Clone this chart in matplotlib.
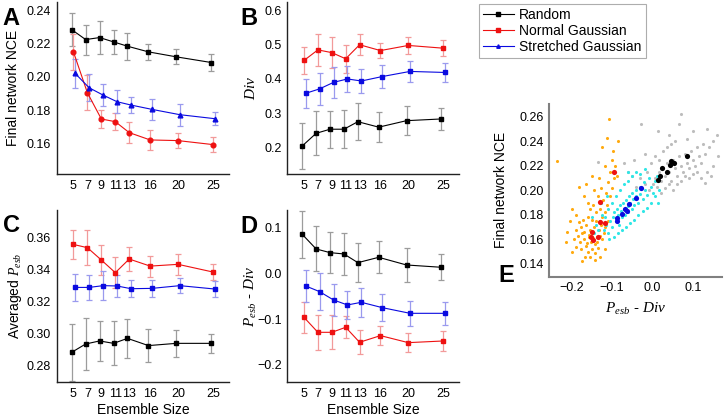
import numpy as np
import matplotlib
matplotlib.use('Agg')
import matplotlib.pyplot as plt
from matplotlib.lines import Line2D

plt.rcParams['font.family'] = ['Liberation Sans', 'DejaVu Sans']
plt.rcParams['mathtext.fontset'] = 'custom'
plt.rcParams['mathtext.it'] = 'Liberation Serif:italic'
plt.rcParams['mathtext.rm'] = 'Liberation Serif'

sizes = [5, 7, 9, 11, 13, 16, 20, 25]
series_names = ['Random', 'Normal Gaussian', 'Stretched Gaussian']

# panel A: final network NCE
nce_random = [0.2284, 0.2224, 0.2236, 0.2210, 0.2184, 0.2150, 0.2120, 0.2086]
nce_random_err = [0.0098, 0.009, 0.010, 0.007, 0.008, 0.005, 0.0045, 0.005]
nce_normal = [0.2150, 0.1904, 0.1746, 0.1730, 0.1664, 0.1620, 0.1616, 0.1592]
nce_normal_err = [0.011, 0.0105, 0.0055, 0.0053, 0.0065, 0.006, 0.0047, 0.0045]
nce_stretched = [0.2020, 0.1934, 0.1890, 0.1850, 0.1830, 0.1804, 0.1772, 0.1748]
nce_stretched_err = [0.009, 0.008, 0.0067, 0.007, 0.005, 0.0065, 0.0066, 0.004]

# panel B: Div
div_random = [0.204, 0.241, 0.253, 0.253, 0.275, 0.259, 0.278, 0.283]
div_random_err = [0.066, 0.064, 0.054, 0.055, 0.054, 0.044, 0.043, 0.033]
div_normal = [0.454, 0.485, 0.477, 0.459, 0.500, 0.483, 0.498, 0.490]
div_normal_err = [0.040, 0.046, 0.045, 0.041, 0.031, 0.023, 0.024, 0.024]
div_stretched = [0.358, 0.371, 0.390, 0.400, 0.394, 0.407, 0.422, 0.419]
div_stretched_err = [0.042, 0.046, 0.046, 0.037, 0.036, 0.034, 0.030, 0.029]

# panel C: averaged P_esb
pesb_random = [0.2885, 0.2937, 0.2956, 0.2941, 0.2972, 0.2927, 0.2941, 0.2941]
pesb_random_err = [0.0177, 0.0163, 0.0125, 0.0138, 0.0122, 0.0104, 0.0085, 0.0059]
pesb_normal = [0.3558, 0.3538, 0.3461, 0.3382, 0.3467, 0.3423, 0.3434, 0.3386]
pesb_normal_err = [0.0089, 0.011, 0.0093, 0.0097, 0.0074, 0.0066, 0.0064, 0.0047]
pesb_stretched = [0.3290, 0.3290, 0.3301, 0.3299, 0.3282, 0.3284, 0.3301, 0.3280]
pesb_stretched_err = [0.0086, 0.0076, 0.009, 0.0068, 0.0054, 0.0052, 0.0045, 0.0047]

# panel D: P_esb - Div
pd_random = [0.0847, 0.0528, 0.0448, 0.0419, 0.0230, 0.0346, 0.0179, 0.0129]
pd_random_err = [0.051, 0.049, 0.044, 0.046, 0.043, 0.035, 0.037, 0.028]
pd_normal = [-0.0961, -0.1288, -0.1288, -0.1179, -0.1505, -0.1360, -0.1513, -0.1477]
pd_normal_err = [0.034, 0.038, 0.037, 0.024, 0.026, 0.020, 0.021, 0.022]
pd_stretched = [-0.0278, -0.0402, -0.0583, -0.0692, -0.0634, -0.0750, -0.0874, -0.0874]
pd_stretched_err = [0.0345, 0.040, 0.0345, 0.031, 0.031, 0.029, 0.027, 0.025]

# panel E: individual networks (x = P_esb - Div, y = final NCE)
cloud_normal_x = [-0.170, -0.165, -0.158, -0.152, -0.147, -0.175, -0.180, -0.160, -0.150, -0.142,
                  -0.138, -0.133, -0.128, -0.145, -0.155, -0.165, -0.185, -0.190, -0.178, -0.168,
                  -0.155, -0.143, -0.135, -0.125, -0.120, -0.118, -0.140, -0.150, -0.160, -0.172,
                  -0.182, -0.195, -0.188, -0.176, -0.162, -0.148, -0.137, -0.130, -0.157, -0.170,
                  -0.125, -0.118, -0.130, -0.112, -0.122, -0.105, -0.115, -0.135, -0.100, -0.110,
                  -0.095, -0.105, -0.092, -0.100, -0.088, -0.140, -0.148, -0.155, -0.128, -0.117,
                  -0.237, -0.212, -0.205, -0.200, -0.181, -0.170, -0.113, -0.108, -0.125, -0.145,
                  -0.160, -0.143, -0.130, -0.175, -0.200, -0.190, -0.098, -0.085, -0.215, -0.118,
                  -0.110, -0.133, -0.150, -0.165]
cloud_normal_y = [0.160, 0.155, 0.162, 0.158, 0.165, 0.165, 0.158, 0.150, 0.152, 0.156,
                  0.162, 0.168, 0.172, 0.170, 0.168, 0.172, 0.163, 0.168, 0.170, 0.146,
                  0.146, 0.149, 0.153, 0.160, 0.165, 0.170, 0.175, 0.176, 0.178, 0.176,
                  0.174, 0.160, 0.154, 0.152, 0.157, 0.161, 0.158, 0.163, 0.164, 0.166,
                  0.178, 0.182, 0.185, 0.188, 0.192, 0.195, 0.198, 0.195, 0.202, 0.207,
                  0.210, 0.215, 0.220, 0.225, 0.212, 0.182, 0.188, 0.185, 0.202, 0.220,
                  0.224, 0.166, 0.175, 0.150, 0.203, 0.195, 0.243, 0.258, 0.235, 0.200,
                  0.190, 0.143, 0.146, 0.142, 0.185, 0.180, 0.232, 0.240, 0.158, 0.152,
                  0.175, 0.210, 0.212, 0.205]
cloud_stretched_x = [-0.120, -0.115, -0.110, -0.105, -0.100, -0.098, -0.095, -0.090, -0.088, -0.085,
                     -0.082, -0.080, -0.078, -0.075, -0.072, -0.070, -0.068, -0.065, -0.062, -0.060,
                     -0.058, -0.055, -0.052, -0.050, -0.048, -0.045, -0.042, -0.040, -0.035, -0.032,
                     -0.030, -0.025, -0.022, -0.020, -0.015, -0.010, -0.005, 0.000, 0.005, 0.010,
                     -0.130, -0.135, -0.125, -0.140, -0.150, -0.110, -0.100, -0.090, -0.080, -0.070,
                     -0.060, -0.050, -0.040, -0.085, -0.075, -0.065, -0.055, -0.045, -0.035, -0.025,
                     -0.015, -0.005, 0.005, 0.015, -0.095, -0.108, -0.118, -0.128, -0.060, -0.030,
                     -0.020, 0.012, -0.145, -0.112]
cloud_stretched_y = [0.168, 0.172, 0.165, 0.175, 0.170, 0.178, 0.182, 0.175, 0.185, 0.180,
                     0.172, 0.188, 0.183, 0.178, 0.190, 0.185, 0.180, 0.192, 0.187, 0.182,
                     0.195, 0.190, 0.185, 0.198, 0.193, 0.188, 0.200, 0.195, 0.190, 0.203,
                     0.197, 0.193, 0.207, 0.200, 0.196, 0.210, 0.203, 0.198, 0.208, 0.212,
                     0.175, 0.168, 0.180, 0.172, 0.178, 0.185, 0.190, 0.195, 0.200, 0.205,
                     0.208, 0.212, 0.215, 0.165, 0.168, 0.170, 0.173, 0.176, 0.180, 0.183,
                     0.186, 0.190, 0.195, 0.200, 0.162, 0.160, 0.178, 0.190, 0.215, 0.213,
                     0.217, 0.190, 0.165, 0.195]
cloud_random_x = [0.000, 0.005, 0.010, 0.015, 0.020, 0.025, 0.030, 0.035, 0.040, 0.045,
                  0.050, 0.055, 0.060, 0.065, 0.070, 0.075, 0.080, 0.085, 0.090, 0.095,
                  0.100, 0.105, 0.110, 0.115, 0.120, 0.125, 0.130, 0.140, 0.150, 0.135,
                  -0.010, -0.020, -0.030, -0.040, -0.050, -0.015, -0.005, 0.005, 0.015, 0.025,
                  0.035, 0.045, 0.055, 0.020, 0.030, 0.040, 0.050, 0.060, 0.070, 0.080,
                  0.090, 0.100, 0.110, 0.120, 0.130, 0.071, -0.029, 0.065, 0.135, 0.012,
                  0.159, -0.060, -0.070, -0.135, 0.160, 0.150, 0.040, 0.085, 0.100, -0.020,
                  -0.045, 0.145]
cloud_random_y = [0.205, 0.210, 0.203, 0.215, 0.208, 0.218, 0.212, 0.222, 0.215, 0.208,
                  0.225, 0.218, 0.212, 0.228, 0.220, 0.215, 0.230, 0.222, 0.218, 0.232,
                  0.225, 0.220, 0.235, 0.228, 0.222, 0.238, 0.230, 0.235, 0.240, 0.215,
                  0.200, 0.205, 0.210, 0.203, 0.212, 0.215, 0.222, 0.228, 0.225, 0.232,
                  0.235, 0.238, 0.240, 0.198, 0.202, 0.205, 0.200, 0.205, 0.208, 0.212,
                  0.210, 0.213, 0.215, 0.210, 0.206, 0.262, 0.254, 0.254, 0.250, 0.248,
                  0.245, 0.215, 0.222, 0.223, 0.228, 0.220, 0.245, 0.242, 0.248, 0.230,
                  0.225, 0.212]

colors = ['#000000', '#ee1111', '#0a0ae0']
err_colors = ['#9c9c9c', '#f29a9a', '#9a9aee']
cloud_colors = ['#bdbdbd', '#ffaa10', '#30e6e6']
offsets = [-0.25, 0.0, 0.25]

fig = plt.figure(figsize=(7.24, 4.19), dpi=100)

def style_axes(ax):
    for s in ['top', 'right']:
        ax.spines[s].set_visible(False)
    for s in ['left', 'bottom']:
        ax.spines[s].set_color('#222222')
        ax.spines[s].set_linewidth(1.0)
    ax.tick_params(length=0, labelsize=9, pad=4)
    ax.set_xticks(sizes)
    ax.set_xlim(2.6, 27.3)

def draw_panel(ax, ys, errs, markers):
    for i in range(3):
        x = np.array(sizes) + offsets[i]
        ax.errorbar(x, ys[i], yerr=errs[i], fmt='-', marker=markers[i], color=colors[i],
                    ms=3.4, lw=0.8, ecolor=err_colors[i], elinewidth=0.9,
                    capsize=2, capthick=0.9)

axA = fig.add_axes([0.0783, 0.5847, 0.238, 0.4105])
draw_panel(axA, [nce_random, nce_normal, nce_stretched],
           [nce_random_err, nce_normal_err, nce_stretched_err], ['s', 'o', '^'])
style_axes(axA)
axA.set_ylim(0.1415, 0.245)
axA.set_yticks([0.16, 0.18, 0.20, 0.22, 0.24])
axA.set_ylabel('Final network NCE', fontsize=10)
axA.yaxis.set_label_coords(-0.213, 0.5)

axB = fig.add_axes([0.3968, 0.5847, 0.2372, 0.4105])
draw_panel(axB, [div_random, div_normal, div_stretched],
           [div_random_err, div_normal_err, div_stretched_err], ['s', 's', 's'])
style_axes(axB)
axB.set_ylim(0.122, 0.625)
axB.set_yticks([0.2, 0.3, 0.4, 0.5, 0.6])
axB.set_ylabel('$Div$', fontsize=11)
axB.yaxis.set_label_coords(-0.17, 0.5)

axC = fig.add_axes([0.0783, 0.0876, 0.238, 0.4112])
draw_panel(axC, [pesb_random, pesb_normal, pesb_stretched],
           [pesb_random_err, pesb_normal_err, pesb_stretched_err], ['s', 's', 's'])
style_axes(axC)
axC.set_ylim(0.2698, 0.3773)
axC.set_yticks([0.28, 0.30, 0.32, 0.34, 0.36])
axC.set_ylabel('Averaged $P_{esb}$', fontsize=10)
axC.yaxis.set_label_coords(-0.19, 0.5)
axC.set_xlabel('Ensemble Size', fontsize=10)
axC.xaxis.set_label_coords(0.5, -0.12)

axD = fig.add_axes([0.3968, 0.0876, 0.2372, 0.4112])
draw_panel(axD, [pd_random, pd_normal, pd_stretched],
           [pd_random_err, pd_normal_err, pd_stretched_err], ['s', 's', 's'])
style_axes(axD)
axD.set_ylim(-0.2377, 0.1377)
axD.set_yticks([-0.2, -0.1, 0.0, 0.1])
axD.set_ylabel('$P_{esb}$ - $Div$', fontsize=11)
axD.yaxis.set_label_coords(-0.165, 0.5)
axD.set_xlabel('Ensemble Size', fontsize=10)
axD.xaxis.set_label_coords(0.5, -0.12)

axE = fig.add_axes([0.7587, 0.3396, 0.2385, 0.4122])
axE.scatter(cloud_normal_x, cloud_normal_y, s=5, color=cloud_colors[1], lw=0)
axE.scatter(cloud_random_x, cloud_random_y, s=5, color=cloud_colors[0], lw=0)
axE.scatter(cloud_stretched_x, cloud_stretched_y, s=5, color=cloud_colors[2], lw=0)
axE.scatter(pd_random, nce_random, s=14, color=colors[0], lw=0)
axE.scatter(pd_normal, nce_normal, s=14, color=colors[1], lw=0)
axE.scatter(pd_stretched, nce_stretched, s=14, color=colors[2], lw=0)
for s in ['top', 'right']:
    axE.spines[s].set_visible(False)
for s in ['left', 'bottom']:
    axE.spines[s].set_color('#808080')
    axE.spines[s].set_linewidth(1.5)
axE.tick_params(length=0, labelsize=9, pad=4)
axE.set_xlim(-0.255, 0.171)
axE.set_ylim(0.1296, 0.2704)
axE.set_xticks([-0.2, -0.1, 0.0, 0.1])
axE.set_yticks([0.14, 0.16, 0.18, 0.20, 0.22, 0.24, 0.26])
axE.set_ylabel('Final network NCE', fontsize=10)
axE.yaxis.set_label_coords(-0.24, 0.5)
axE.set_xlabel('$P_{esb}$ - $Div$', fontsize=11)
axE.xaxis.set_label_coords(0.5, -0.14)

# legend
handles = [Line2D([], [], color=colors[0], marker='s', ms=2.5, lw=0.8),
           Line2D([], [], color=colors[1], marker='s', ms=2.5, lw=0.8),
           Line2D([], [], color=colors[2], marker='^', ms=2.5, lw=0.8)]
leg = fig.legend(handles, series_names, loc='upper left', bbox_to_anchor=(479 / 724, 1 - 4 / 419),
                 fontsize=10, frameon=True, fancybox=False, handlelength=2.2,
                 labelspacing=0.15, borderpad=0.3, handletextpad=0.4, borderaxespad=0)
leg.get_frame().set_edgecolor('#999999')
leg.get_frame().set_linewidth(0.8)

# panel letters
for letter, x, y in [('A', 2, 25), ('B', 240, 25), ('C', 3, 232), ('D', 240, 233), ('E', 498, 282)]:
    fig.text(x / 724, 1 - y / 419, letter, fontsize=17, fontweight='bold', va='baseline', ha='left')

fig.savefig('out.png', dpi=100)
